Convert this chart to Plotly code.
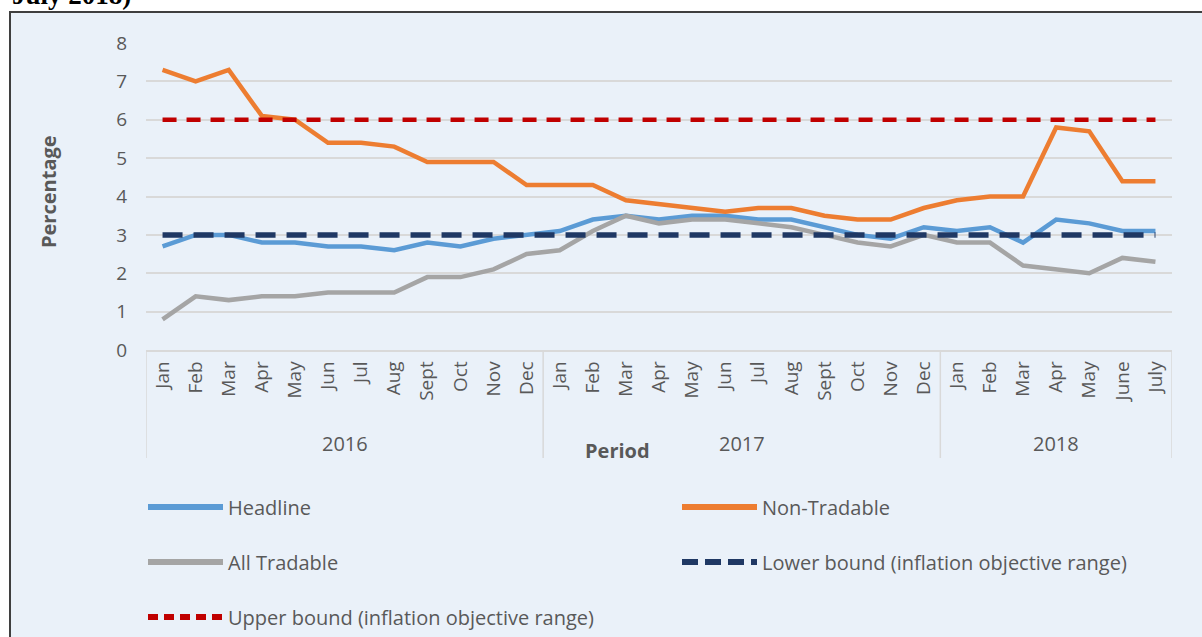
import plotly.graph_objects as go

months = ["Jan", "Feb", "Mar", "Apr", "May", "Jun", "Jul", "Aug", "Sept", "Oct", "Nov", "Dec",
          "Jan", "Feb", "Mar", "Apr", "May", "Jun", "Jul", "Aug", "Sept", "Oct", "Nov", "Dec",
          "Jan", "Feb", "Mar", "Apr", "May", "June", "July"]
years = ["2016"] * 12 + ["2017"] * 12 + ["2018"] * 7
year_labels = ["2016", "2017", "2018"]

headline = [2.7, 3.0, 3.0, 2.8, 2.8, 2.7, 2.7, 2.6, 2.8, 2.7, 2.9, 3.0,
            3.1, 3.4, 3.5, 3.4, 3.5, 3.5, 3.4, 3.4, 3.2, 3.0, 2.9, 3.2,
            3.1, 3.2, 2.8, 3.4, 3.3, 3.1, 3.1]
non_tradable = [7.3, 7.0, 7.3, 6.1, 6.0, 5.4, 5.4, 5.3, 4.9, 4.9, 4.9, 4.3,
                4.3, 4.3, 3.9, 3.8, 3.7, 3.6, 3.7, 3.7, 3.5, 3.4, 3.4, 3.7,
                3.9, 4.0, 4.0, 5.8, 5.7, 4.4, 4.4]
all_tradable = [0.8, 1.4, 1.3, 1.4, 1.4, 1.5, 1.5, 1.5, 1.9, 1.9, 2.1, 2.5,
                2.6, 3.1, 3.5, 3.3, 3.4, 3.4, 3.3, 3.2, 3.0, 2.8, 2.7, 3.0,
                2.8, 2.8, 2.2, 2.1, 2.0, 2.4, 2.3]
lower_bound = [3] * 31
upper_bound = [6] * 31

idx = list(range(len(months)))

# body margin is removed in the page (post_script), so figure pixels = screen pixels
W, H = 1202, 637
ML, MR, MT = 146, 30, 43
PH = 307
MB = H - MT - PH
PW = W - ML - MR


def px(xp):
    return (xp - ML) / PW


def py(yp):
    return (MT + PH - yp) / PH


FONT = "Open Sans"
TXT = "#595959"
GRID = "#D9D9D9"

series = [
    ("Headline", headline, "#5B9BD5", "solid", 4.5),
    ("Non-Tradable", non_tradable, "#ED7D31", "solid", 4.5),
    ("All Tradable", all_tradable, "#A5A5A5", "solid", 4.5),
    ("Lower bound (inflation objective range)", lower_bound, "#1F3864", "20px,11px", 5.5),
    ("Upper bound (inflation objective range)", upper_bound, "#C00000", "14px,10px", 4.5),
]

fig = go.Figure()
for name, vals, col, dash, w in series:
    fig.add_trace(go.Scatter(x=idx, y=vals, name=name, mode="lines",
                             line=dict(color=col, width=w, dash=dash),
                             showlegend=False))

shapes = []
# frame / background
shapes.append(dict(type="rect", xref="paper", yref="paper",
                   x0=px(10), x1=px(1215), y0=py(12), y1=py(660),
                   fillcolor="#EAF1F9", line=dict(color="#3F3F3F", width=2),
                   layer="below"))
# category dividers
for xd in [-0.5, 11.5, 23.5, 30.5]:
    shapes.append(dict(type="line", xref="x", yref="paper", x0=xd, x1=xd,
                       y0=0, y1=py(458), line=dict(color=GRID, width=1.5)))

annotations = []
# year labels
for yl, xc in zip(year_labels, [5.5, 17.5, 27]):
    annotations.append(dict(text=yl, x=xc, xref="x", y=py(443), yref="paper",
                            showarrow=False, yanchor="middle",
                            font=dict(family=FONT, size=20, color=TXT)))
annotations.append(dict(text="<b>Period</b>", x=px(617), xref="paper", y=py(450), yref="paper",
                        showarrow=False, yanchor="middle",
                        font=dict(family=FONT, size=20, color=TXT)))
annotations.append(dict(text="<b>Percentage</b>", x=px(48), xref="paper", y=py(192), yref="paper",
                        showarrow=False, textangle=-90, xanchor="center", yanchor="middle",
                        font=dict(family=FONT, size=20, color=TXT)))
annotations.append(dict(text="<b>July 2018)</b>", x=px(10), xref="paper", y=py(12), yref="paper",
                        showarrow=False, xanchor="left", yanchor="bottom",
                        font=dict(family="Liberation Serif", size=27, color="#000000")))

# legend (manual)
legend_pos = [(148, 507), (682, 507), (148, 562), (682, 562), (148, 617)]
for (name, vals, col, dash, w), (lx, ly) in zip(series, legend_pos):
    ldash = "solid" if dash == "solid" else ("16px,7px" if col == "#1F3864" else "10px,6px")
    shapes.append(dict(type="line", xref="paper", yref="paper",
                       x0=px(lx), x1=px(lx + 75), y0=py(ly), y1=py(ly),
                       line=dict(color=col, width=6, dash=ldash)))
    annotations.append(dict(text=name, x=px(lx + 78), xref="paper", y=py(ly), yref="paper",
                            showarrow=False, xanchor="left", yanchor="middle",
                            font=dict(family=FONT, size=20, color=TXT)))

fig.update_layout(
    width=W, height=H,
    margin=dict(l=ML, r=MR, t=MT, b=MB, pad=0),
    paper_bgcolor="#FFFFFF",
    plot_bgcolor="rgba(0,0,0,0)",
    shapes=shapes,
    annotations=annotations,
    showlegend=False,
    hovermode=False,
    xaxis=dict(range=[-0.5, 30.5], tickmode="array", tickvals=idx, ticktext=months,
               tickangle=-90, showgrid=False, zeroline=False,
               showline=True, linecolor=GRID, linewidth=1.5, ticks="",
               ticklabelstandoff=2,
               tickfont=dict(family=FONT, size=19, color=TXT)),
    yaxis=dict(range=[0, 8], dtick=1, tick0=0, showgrid=True, gridcolor=GRID, gridwidth=1.5,
               zeroline=False, showline=False, ticks="", ticklabelstandoff=18,
               tickfont=dict(family=FONT, size=19, color=TXT)),
)

fig.write_html("out.html",
               config={"displayModeBar": False},
               post_script="document.body.style.margin='0';document.body.style.overflow='hidden';")
